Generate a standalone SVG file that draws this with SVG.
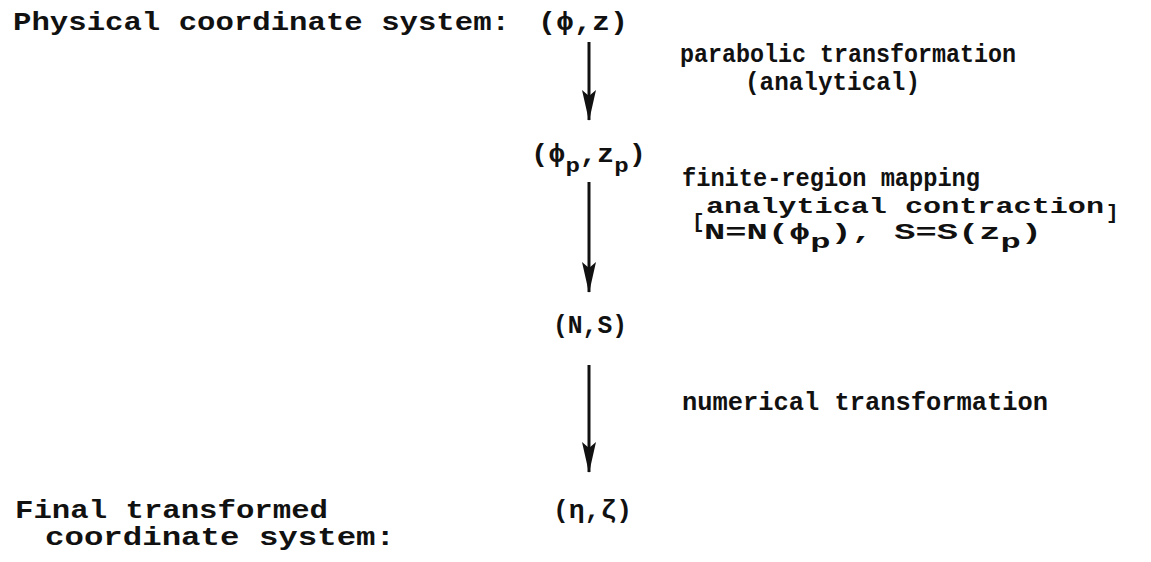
<svg xmlns="http://www.w3.org/2000/svg" width="1151" height="562" viewBox="0 0 1151 562">
  <style>
    text { font-family: "Liberation Mono", "DejaVu Sans Mono", monospace; font-weight: bold; fill: #111; font-size: 25px; }
    .sub { font-size: 21px; }
    .small { font-size: 22px; }
    .conn { stroke: #111; stroke-width: 3; fill: none; }
  </style>
  <defs>
    <marker id="head" markerUnits="userSpaceOnUse" markerWidth="32" markerHeight="14" refX="30" refY="7" orient="auto" viewBox="0 0 32 14">
      <path d="M0,0 L6,7 L0,14 L31,7 Z" fill="#111"/>
    </marker>
  </defs>
  <rect width="1151" height="562" fill="#fff"/>

  <g id="node-physical">
    <text x="13" y="30" textLength="497" lengthAdjust="spacingAndGlyphs">Physical coordinate system:</text>
    <text x="538" y="30" textLength="90" lengthAdjust="spacingAndGlyphs">(ϕ,z)</text>
  </g>

  <g id="node-parabolic">
    <text x="531" y="162" textLength="115" lengthAdjust="spacingAndGlyphs">(ϕ<tspan class="sub" dy="10">p</tspan><tspan dy="-10">,z</tspan><tspan class="sub" dy="10">p</tspan><tspan dy="-10">)</tspan></text>
  </g>

  <g id="node-ns">
    <text x="553" y="333" textLength="74" lengthAdjust="spacingAndGlyphs">(N,S)</text>
  </g>

  <g id="node-final">
    <text x="15" y="518" textLength="313" lengthAdjust="spacingAndGlyphs">Final transformed</text>
    <text x="45" y="545" textLength="350" lengthAdjust="spacingAndGlyphs">coordinate system:</text>
    <text x="553" y="518" textLength="79" lengthAdjust="spacingAndGlyphs">(η,ζ)</text>
  </g>

  <g id="connectors">
    <line class="conn" x1="589" y1="42" x2="589" y2="120" marker-end="url(#head)"/>
    <line class="conn" x1="589" y1="182" x2="589" y2="292" marker-end="url(#head)"/>
    <line class="conn" x1="589" y1="365" x2="589" y2="472" marker-end="url(#head)"/>
  </g>

  <g id="labels">
    <text x="680" y="62" textLength="336" lengthAdjust="spacingAndGlyphs">parabolic transformation</text>
    <text x="745" y="90" textLength="175" lengthAdjust="spacingAndGlyphs">(analytical)</text>
    <text x="682" y="186" font-size="24" textLength="298" lengthAdjust="spacingAndGlyphs">finite-region mapping</text>
    <text x="692" y="228" class="sub">[</text>
    <text x="706" y="213" class="small" textLength="398" lengthAdjust="spacingAndGlyphs">analytical contraction</text>
    <text x="1106" y="219" class="sub">]</text>
    <text x="704" y="239" class="small" textLength="338" lengthAdjust="spacingAndGlyphs">N=N(ϕ<tspan class="sub" dy="9">p</tspan><tspan dy="-9">), S=S(z</tspan><tspan class="sub" dy="9">p</tspan><tspan dy="-9">)</tspan></text>
    <text x="682" y="410" textLength="366" lengthAdjust="spacingAndGlyphs">numerical transformation</text>
  </g>
</svg>
